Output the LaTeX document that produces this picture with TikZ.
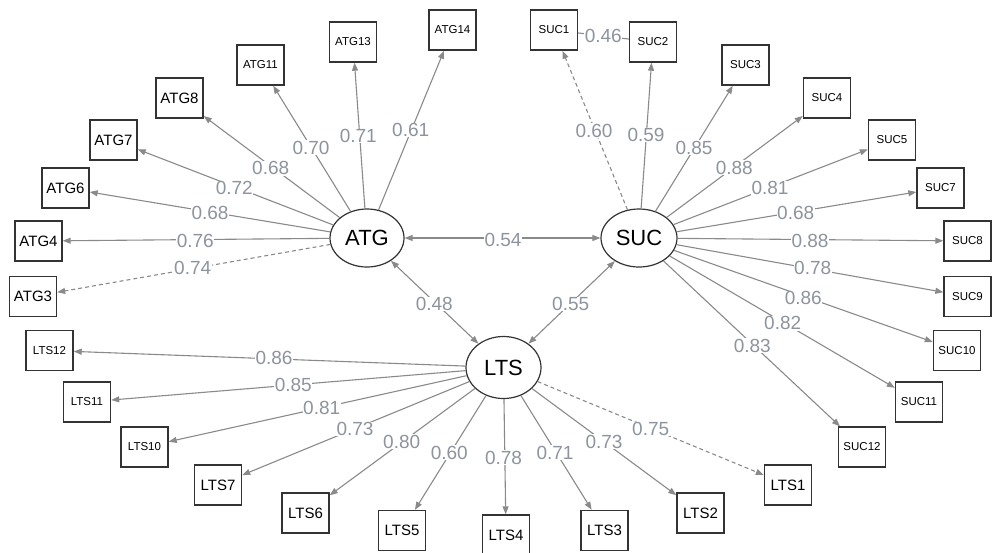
\documentclass[tikz,border=0pt]{standalone}
\usepackage{fontspec}
\setmainfont{Liberation Sans}
\usetikzlibrary{arrows.meta,shapes.geometric}
\definecolor{edgec}{HTML}{8A8A8A}
\definecolor{labc}{HTML}{8E949E}
\definecolor{boxc}{HTML}{333333}
\tikzset{
  obsbig/.style={draw=boxc,line width=1.4pt,minimum width=47pt,minimum height=40pt,inner sep=0pt,font=\fontsize{15}{15}\selectfont,text=black},
  obssm/.style={obsbig,font=\fontsize{11.5}{11.5}\selectfont},
  latent/.style={ellipse,draw=boxc,line width=1.2pt,inner sep=0pt,font=\fontsize{22}{22}\selectfont,text=black},
  load/.style={draw=edgec,line width=1.1pt,-{Triangle[length=8pt,width=6pt]}},
  loaddash/.style={load,dash pattern=on 4pt off 3pt},
  cov/.style={draw=edgec,line width=1.1pt,{Triangle[length=8pt,width=6pt]}-{Triangle[length=8pt,width=6pt]}},
  wlab/.style={fill=white,inner sep=0.6pt,text=labc,font=\fontsize{19}{19}\selectfont}
}
\begin{document}
\begin{tikzpicture}[x=1pt,y=-1pt]
\useasboundingbox (0,0) rectangle (992,552);
% latent variables
\node[latent,minimum width=74pt,minimum height=58pt] (ATG) at (367,238) {ATG};
\node[latent,minimum width=76pt,minimum height=58pt] (SUC) at (639,238) {SUC};
\node[latent,minimum width=75pt,minimum height=62pt] (LTS) at (503.5,367.5) {LTS};
% ATG indicators
\node[obsbig] (ATG3) at (33,296.5) {ATG3};
\node[obsbig] (ATG4) at (38.5,241) {ATG4};
\node[obsbig] (ATG6) at (65.5,188) {ATG6};
\node[obsbig] (ATG7) at (113.5,140) {ATG7};
\node[obsbig] (ATG8) at (179.5,98) {ATG8};
\node[obssm] (ATG11) at (260.5,65) {ATG11};
\node[obssm] (ATG13) at (353,42) {ATG13};
\node[obssm] (ATG14) at (452.5,30) {ATG14};
% SUC indicators
\node[obssm] (SUC1) at (554,30) {SUC1};
\node[obssm] (SUC2) at (653,42) {SUC2};
\node[obssm] (SUC3) at (745.5,65) {SUC3};
\node[obssm] (SUC4) at (827,98) {SUC4};
\node[obssm] (SUC5) at (892,140) {SUC5};
\node[obssm] (SUC7) at (940.5,188) {SUC7};
\node[obssm] (SUC8) at (967.5,241) {SUC8};
\node[obssm] (SUC9) at (967.5,296.5) {SUC9};
\node[obssm] (SUC10) at (957,350.5) {SUC10};
\node[obssm] (SUC11) at (919,402) {SUC11};
\node[obssm] (SUC12) at (862,447) {SUC12};
% LTS indicators
\node[obssm] (LTS12) at (49.5,350.5) {LTS12};
\node[obssm] (LTS11) at (87,402) {LTS11};
\node[obssm] (LTS10) at (144.5,447) {LTS10};
\node[obsbig] (LTS7) at (218,485) {LTS7};
\node[obsbig] (LTS6) at (305.5,513) {LTS6};
\node[obsbig] (LTS5) at (402,530.5) {LTS5};
\node[obsbig] (LTS4) at (506,535) {LTS4};
\node[obsbig] (LTS3) at (604.5,530.5) {LTS3};
\node[obsbig] (LTS2) at (700.5,513) {LTS2};
\node[obsbig] (LTS1) at (788,485) {LTS1};
% loadings ATG
\draw[loaddash] (ATG) -- (ATG3);
\draw[load] (ATG) -- (ATG4);
\draw[load] (ATG) -- (ATG6);
\draw[load] (ATG) -- (ATG7);
\draw[load] (ATG) -- (ATG8);
\draw[load] (ATG) -- (ATG11);
\draw[load] (ATG) -- (ATG13);
\draw[load] (ATG) -- (ATG14);
% loadings SUC
\draw[loaddash] (SUC) -- (SUC1);
\draw[load] (SUC) -- (SUC2);
\draw[load] (SUC) -- (SUC3);
\draw[load] (SUC) -- (SUC4);
\draw[load] (SUC) -- (SUC5);
\draw[load] (SUC) -- (SUC7);
\draw[load] (SUC) -- (SUC8);
\draw[load] (SUC) -- (SUC9);
\draw[load] (SUC) -- (SUC10);
\draw[load] (SUC) -- (SUC11);
\draw[load] (SUC) -- (SUC12);
% loadings LTS
\draw[loaddash] (LTS) -- (LTS1);
\draw[load] (LTS) -- (LTS2);
\draw[load] (LTS) -- (LTS3);
\draw[load] (LTS) -- (LTS4);
\draw[load] (LTS) -- (LTS5);
\draw[load] (LTS) -- (LTS6);
\draw[load] (LTS) -- (LTS7);
\draw[load] (LTS) -- (LTS10);
\draw[load] (LTS) -- (LTS11);
\draw[load] (LTS) -- (LTS12);
% covariances
\draw[cov] (ATG) -- (SUC);
\draw[cov] (ATG) -- (LTS);
\draw[cov] (SUC) -- (LTS);
\draw[draw=edgec,line width=1.1pt] (SUC1) -- (SUC2);
% labels
\node[wlab] (lA3) at (192.7,268.3) {0.74};
\node[wlab] (lA4) at (195.3,240.7) {0.76};
\node[wlab] (lA6) at (210,213.3) {0.68};
\node[wlab] (lA7) at (234.3,188.3) {0.72};
\node[wlab] (lA8) at (270.7,168.3) {0.68};
\node[wlab] (lA11) at (311,147.7) {0.70};
\node[wlab] (lA13) at (358.3,136) {0.71};
\node[wlab] (lA14) at (410.7,130) {0.61};
\node[wlab] (lS1) at (594,130.7) {0.60};
\node[wlab] (lS2) at (646,135) {0.59};
\node[wlab] (lS3) at (694,147.7) {0.85};
\node[wlab] (lS4) at (734.3,167.7) {0.88};
\node[wlab] (lS5) at (770,188.3) {0.81};
\node[wlab] (lS7) at (795.7,213.3) {0.68};
\node[wlab] (lS8) at (810,240.7) {0.88};
\node[wlab] (lS9) at (812.7,267.7) {0.78};
\node[wlab] (lS10) at (803.3,298.3) {0.86};
\node[wlab] (lS11) at (782.7,323.3) {0.82};
\node[wlab] (lS12) at (752.3,345.7) {0.83};
\node[wlab] (lS12c) at (603.3,36) {0.46};
\node[wlab] (lL1) at (650.7,429) {0.75};
\node[wlab] (lL2) at (604,441.7) {0.73};
\node[wlab] (lL3) at (555,452.7) {0.71};
\node[wlab] (lL4) at (503.5,457.7) {0.78};
\node[wlab] (lL5) at (449.3,452.7) {0.60};
\node[wlab] (lL6) at (401.7,441.7) {0.80};
\node[wlab] (lL7) at (355,429) {0.73};
\node[wlab] (lL10) at (321.7,408.3) {0.81};
\node[wlab] (lL11) at (293.3,385) {0.85};
\node[wlab] (lL12) at (274,358.3) {0.86};
\node[wlab] (lAS) at (503,240) {0.54};
\node[wlab] (lAL) at (434.3,304) {0.48};
\node[wlab] (lSL) at (570.7,304) {0.55};
\end{tikzpicture}
\end{document}
